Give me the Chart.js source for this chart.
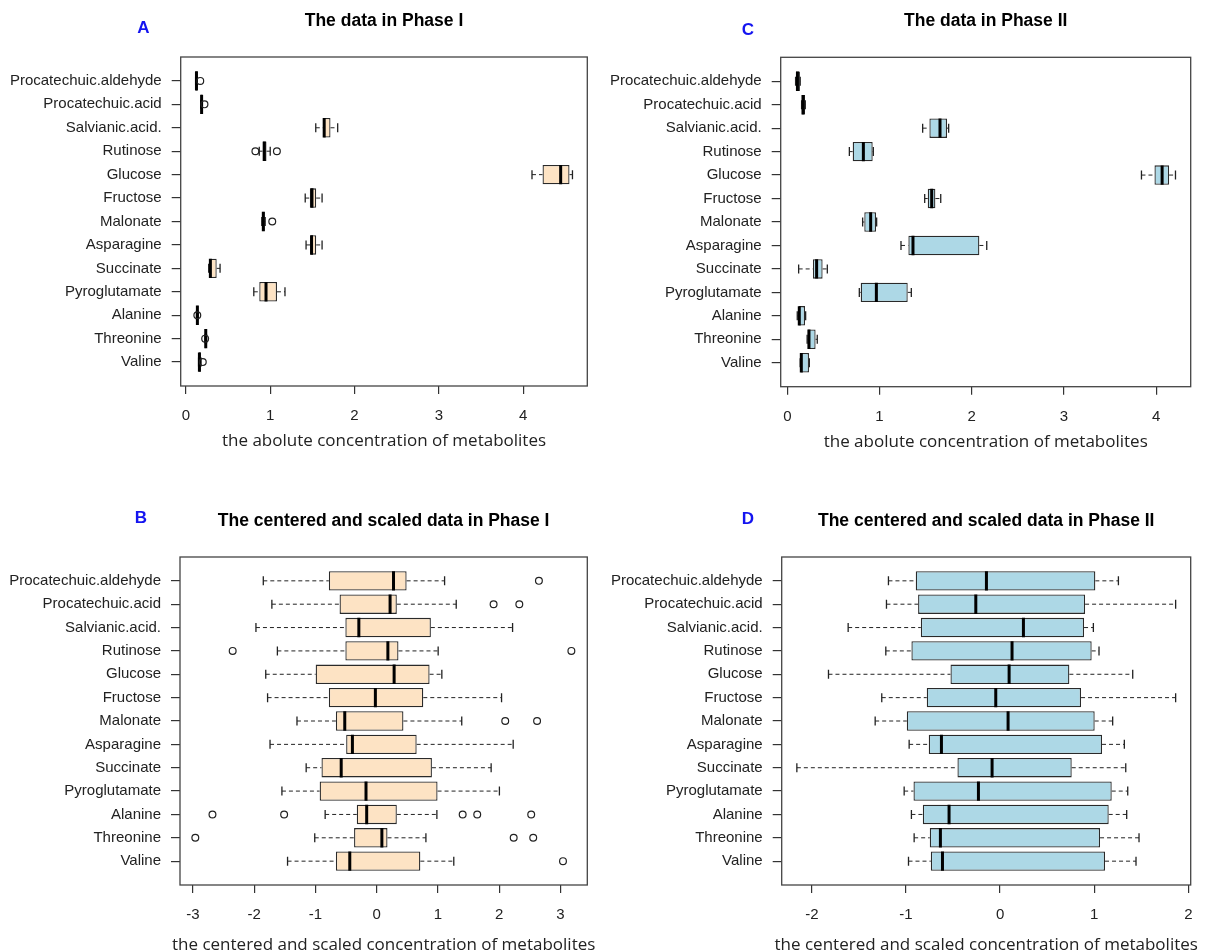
<!DOCTYPE html>
<html>
<head>
<meta charset="utf-8">
<script src="https://cdn.jsdelivr.net/npm/chart.js@4.4.1/dist/chart.umd.min.js"></script>
<style>
  html, body { margin: 0; padding: 0; background: #fff; }
  #wrap { position: relative; width: 1206px; height: 952px; }
  .panel { position: absolute; }
</style>
</head>
<body>
<div id="wrap">
  <div class="panel" style="left:0;top:0"><canvas id="chartA" width="600" height="476"></canvas></div>
  <div class="panel" style="left:600px;top:0"><canvas id="chartC" width="606" height="476"></canvas></div>
  <div class="panel" style="left:0;top:476px"><canvas id="chartB" width="600" height="476"></canvas></div>
  <div class="panel" style="left:600px;top:476px"><canvas id="chartD" width="606" height="476"></canvas></div>
</div>
<script>
// metabolites, top to bottom
const metabolites = ['Procatechuic.aldehyde', 'Procatechuic.acid', 'Salvianic.acid.', 'Rutinose', 'Glucose',
  'Fructose', 'Malonate', 'Asparagine', 'Succinate', 'Pyroglutamate', 'Alanine', 'Threonine', 'Valine']

// A: absolute concentration, phase I
const aLow  = [0.115, 0.175, 1.54, 0.87, 4.105, 1.415, 0.90, 1.425, 0.27, 0.805, 0.125, 0.225, 0.15]
const aQ1   = [0.12, 0.18, 1.63, 0.909, 4.23, 1.47, 0.905, 1.48, 0.28, 0.87, 0.13, 0.23, 0.153]
const aMed  = [0.125, 0.186, 1.64, 0.93, 4.445, 1.495, 0.918, 1.49, 0.29, 0.95, 0.136, 0.235, 0.16]
const aQ3   = [0.13, 0.19, 1.715, 0.956, 4.55, 1.545, 0.935, 1.545, 0.365, 1.08, 0.14, 0.24, 0.176]
const aHigh = [0.135, 0.195, 1.80, 1.0, 4.585, 1.615, 0.94, 1.615, 0.405, 1.175, 0.145, 0.245, 0.18]
const aOut  = [[0, 0.17], [1, 0.22], [3, 0.824], [3, 1.079], [6, 1.024], [10, 0.135], [11, 0.228], [12, 0.2]]

// C: absolute concentration, phase II
const cLow  = [0.09, 0.155, 1.468, 0.673, 3.841, 1.49, 0.817, 1.233, 0.123, 0.781, 0.108, 0.215, 0.14]
const cQ1   = [0.094, 0.158, 1.541, 0.709, 3.982, 1.523, 0.835, 1.313, 0.278, 0.796, 0.123, 0.22, 0.145]
const cMed  = [0.11, 0.17, 1.656, 0.825, 4.065, 1.566, 0.904, 1.363, 0.318, 0.966, 0.13, 0.235, 0.152]
const cQ3   = [0.137, 0.192, 1.732, 0.926, 4.141, 1.606, 0.962, 2.083, 0.383, 1.306, 0.192, 0.307, 0.235]
const cHigh = [0.14, 0.195, 1.75, 0.933, 4.21, 1.664, 0.969, 2.163, 0.434, 1.345, 0.199, 0.325, 0.239]
const cOut  = []

// B: centered and scaled, phase I
const bLow  = [-1.85, -1.71, -1.97, -1.62, -1.81, -1.78, -1.30, -1.74, -1.15, -1.546, -0.84, -1.01, -1.454]
const bQ1   = [-0.78, -0.605, -0.51, -0.51, -0.995, -0.78, -0.665, -0.497, -0.90, -0.93, -0.324, -0.368, -0.665]
const bMed  = [0.276, 0.22, -0.29, 0.184, 0.286, -0.02, -0.52, -0.395, -0.578, -0.173, -0.162, 0.086, -0.438]
const bQ3   = [0.49, 0.33, 0.886, 0.357, 0.865, 0.762, 0.438, 0.654, 0.903, 0.995, 0.33, 0.178, 0.714]
const bHigh = [1.11, 1.30, 2.22, 1.005, 1.065, 2.04, 1.39, 2.23, 1.87, 2.005, 0.984, 0.805, 1.26]
const bOut  = [[0, 2.65], [1, 1.91], [1, 2.33], [3, -2.35], [3, 3.18], [6, 2.10], [6, 2.62],
  [10, -2.68], [10, -1.51], [10, 1.405], [10, 1.643], [10, 2.524], [11, -2.96], [11, 2.238], [11, 2.557], [12, 3.043]]

// D: centered and scaled, phase II
const dLow  = [-1.186, -1.207, -1.614, -1.214, -1.823, -1.257, -1.327, -0.966, -2.159, -1.019, -0.942, -0.913, -0.973]
const dQ1   = [-0.896, -0.871, -0.842, -0.942, -0.527, -0.779, -0.991, -0.758, -0.453, -0.920, -0.821, -0.747, -0.736]
const dMed  = [-0.145, -0.258, 0.248, 0.127, 0.096, -0.046, 0.085, -0.623, -0.085, -0.23, -0.542, -0.634, -0.612]
const dQ3   = [1.012, 0.903, 0.892, 0.973, 0.736, 0.860, 1.005, 1.083, 0.761, 1.186, 1.154, 1.062, 1.115]
const dHigh = [1.257, 1.865, 0.991, 1.051, 1.409, 1.865, 1.196, 1.32, 1.335, 1.356, 1.345, 1.476, 1.444]
const dOut  = []

const absTicks = [0, 1, 2, 3, 4]
const bTicks = [-3, -2, -1, 0, 1, 2, 3]
const dTicks = [-2, -1, 0, 1, 2]

const BISQUE = '#fde3c4'
const LIGHTBLUE = '#add8e6'
const INK = '#222'

// titles, panel letters, axis title and frame
const panelText = {
  id: 'panelText',
  afterDraw(chart, args, opts) {
    const { ctx, chartArea } = chart
    const cx = (chartArea.left + chartArea.right) / 2
    ctx.save()
    ctx.strokeStyle = '#444'
    ctx.lineWidth = 1.3
    ctx.strokeRect(chartArea.left, chartArea.top, chartArea.right - chartArea.left, chartArea.bottom - chartArea.top)

    ctx.textAlign = 'center'
    ctx.textBaseline = 'middle'
    ctx.fillStyle = '#000'
    ctx.font = 'bold 17.5px "Liberation Sans", Arial, sans-serif'
    ctx.fillText(opts.title, cx, chartArea.top - 36)

    ctx.fillStyle = '#1414f0'
    ctx.font = 'bold 17px "Liberation Sans", Arial, sans-serif'
    ctx.fillText(opts.letter, chartArea.left + opts.letterDx, chartArea.top + opts.letterDy)

    ctx.fillStyle = INK
    ctx.font = '17px "Open Sans", sans-serif'
    ctx.fillText(opts.xTitle, cx, chartArea.bottom + opts.xTitleDy)
    ctx.restore()
  }
}

function makePanel(id, p) {
  const idx = metabolites.map((m, i) => i)
  const whiskers = []
  idx.forEach((i) => {
    whiskers.push({ x: p.low[i], y: i }, { x: p.q1[i], y: i }, { x: NaN, y: i })
    whiskers.push({ x: p.q3[i], y: i }, { x: p.high[i], y: i }, { x: NaN, y: i })
  })
  const staples = []
  idx.forEach((i) => {
    staples.push({ x: p.low[i], y: i }, { x: p.high[i], y: i })
  })

  return new Chart(document.getElementById(id), {
    data: {
      datasets: [
        {
          type: 'line',
          data: whiskers,
          borderColor: INK,
          borderWidth: 1,
          borderDash: [4, 3],
          pointRadius: 0,
          fill: false,
          order: 4,
        },
        {
          type: 'scatter',
          data: staples,
          pointStyle: 'line',
          rotation: 90,
          radius: 4.5,
          borderColor: INK,
          borderWidth: 1.3,
          order: 3,
        },
        {
          type: 'bar',
          indexAxis: 'y',
          data: idx.map((i) => ({ x: [p.q1[i], p.q3[i]], y: i })),
          backgroundColor: p.fill,
          borderColor: '#2a2a2a',
          borderWidth: 1.3,
          borderSkipped: false,
          categoryPercentage: 0.83,
          barPercentage: 1,
          order: 2,
        },
        {
          type: 'scatter',
          data: idx.map((i) => ({ x: p.med[i], y: i })),
          pointStyle: 'line',
          rotation: 90,
          radius: 9.7,
          borderColor: '#000',
          borderWidth: 3,
          order: 1,
        },
        {
          type: 'scatter',
          data: p.out.map((o) => ({ x: o[1], y: o[0] })),
          pointStyle: 'circle',
          radius: 3.4,
          backgroundColor: 'rgba(0,0,0,0)',
          borderColor: INK,
          borderWidth: 1.2,
          order: 0,
        },
      ],
    },
    options: {
      responsive: false,
      animation: false,
      devicePixelRatio: 1,
      layout: { padding: p.padding },
      plugins: {
        legend: { display: false },
        tooltip: { enabled: false },
        panelText: {
          title: p.title,
          letter: p.letter,
          letterDx: p.letterDx,
          letterDy: p.letterDy,
          xTitle: p.xTitle,
          xTitleDy: p.xTitleDy,
        },
      },
      scales: {
        x: {
          type: 'linear',
          position: 'bottom',
          offset: false,
          min: p.min,
          max: p.max,
          afterBuildTicks: (scale) => {
            scale.ticks = p.ticks.map((v) => ({ value: v }))
          },
          afterFit: (scale) => {
            scale.height = p.xHeight
          },
          border: { display: false },
          grid: { offset: false, drawOnChartArea: false, drawTicks: true, tickLength: 8, color: '#333', lineWidth: 1.2 },
          ticks: {
            padding: 13,
            color: INK,
            font: { family: '"Liberation Sans", Arial, sans-serif', size: 15 },
            callback: (v) => String(v),
          },
        },
        y: {
          type: 'linear',
          position: 'left',
          offset: false,
          reverse: true,
          min: -1.02,
          max: 13.02,
          afterBuildTicks: (scale) => {
            scale.ticks = idx.map((i) => ({ value: i }))
          },
          afterFit: (scale) => {
            scale.width = p.yWidth
          },
          border: { display: false },
          grid: { offset: false, drawOnChartArea: false, drawTicks: true, tickLength: 9, color: '#333', lineWidth: 1.2 },
          ticks: {
            padding: 10,
            color: INK,
            autoSkip: false,
            font: { family: '"Liberation Sans", Arial, sans-serif', size: 15 },
            callback: (v) => metabolites[v],
          },
        },
      },
    },
    plugins: [panelText],
  })
}

makePanel('chartA', {
  low: aLow, q1: aQ1, med: aMed, q3: aQ3, high: aHigh, out: aOut,
  fill: BISQUE, ticks: absTicks, min: -0.062, max: 4.761,
  padding: { top: 57, right: 9.3, bottom: 0, left: 0 }, yWidth: 180.7, xHeight: 90,
  title: 'The data in Phase I', letter: 'A', letterDx: -37.4, letterDy: -28.7,
  xTitle: 'the abolute concentration of metabolites', xTitleDy: 54.7,
})

makePanel('chartC', {
  low: cLow, q1: cQ1, med: cMed, q3: cQ3, high: cHigh, out: cOut,
  fill: LIGHTBLUE, ticks: absTicks, min: -0.0716, max: 4.375,
  padding: { top: 57.3, right: 15.3, bottom: 0, left: 0 }, yWidth: 180.7, xHeight: 89.3,
  title: 'The data in Phase II', letter: 'C', letterDx: -32.7, letterDy: -27,
  xTitle: 'the abolute concentration of metabolites', xTitleDy: 55,
})

makePanel('chartB', {
  low: bLow, q1: bQ1, med: bMed, q3: bQ3, high: bHigh, out: bOut,
  fill: BISQUE, ticks: bTicks, min: -3.21, max: 3.44,
  padding: { top: 81, right: 10, bottom: 0, left: 0 }, yWidth: 180, xHeight: 67,
  title: 'The centered and scaled data in Phase I', letter: 'B', letterDx: -39, letterDy: -39,
  xTitle: 'the centered and scaled concentration of metabolites', xTitleDy: 60,
})

makePanel('chartD', {
  low: dLow, q1: dQ1, med: dMed, q3: dQ3, high: dHigh, out: dOut,
  fill: LIGHTBLUE, ticks: dTicks, min: -2.32, max: 2.025,
  padding: { top: 81, right: 15.3, bottom: 0, left: 0 }, yWidth: 181.7, xHeight: 67,
  title: 'The centered and scaled data in Phase II', letter: 'D', letterDx: -33.7, letterDy: -38,
  xTitle: 'the centered and scaled concentration of metabolites', xTitleDy: 60,
})
</script>
</body>
</html>
